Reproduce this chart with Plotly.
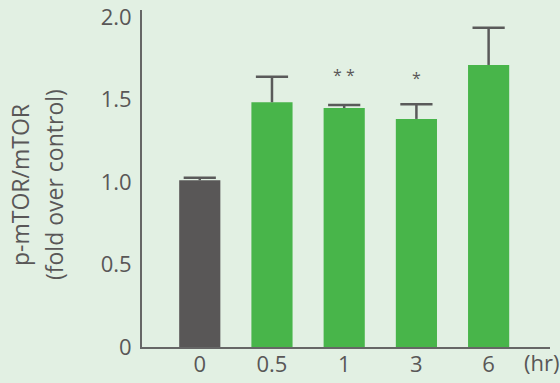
import plotly.graph_objects as go

# Time points after treatment (hr) and normalized p-mTOR/mTOR ratios
time_labels = ["0", "0.5", "1", "3", "6"]
ratio_mean = [1.01, 1.483, 1.448, 1.382, 1.709]
ratio_err = [0.016, 0.155, 0.019, 0.089, 0.226]
bar_colors = ["#595757", "#48b54a", "#48b54a", "#48b54a", "#48b54a"]

# Significance markers
sig_labels = {"1": "* *", "3": "*"}

y_tick_vals = [0, 0.5, 1.0, 1.5, 2.0]
y_tick_text = ["0", "0.5", "1.0", "1.5", "2.0"]

TEXT = "#595757"
ERR = "#5a5a5a"
FONT = "Open Sans"
BG = "#e2f0e3"

W, H = 560, 383
M_L, M_R, M_T, M_B = 142, 10, 10, 36
plot_w = W - M_L - M_R
plot_h = H - M_T - M_B

err_top = [m + e for m, e in zip(ratio_mean, ratio_err)]

fig = go.Figure()
# Bars with upward error stems (no caps)
fig.add_trace(go.Bar(
    x=time_labels,
    y=ratio_mean,
    marker=dict(color=bar_colors, line=dict(width=0)),
    width=0.57,
    error_y=dict(
        type="data",
        symmetric=False,
        array=ratio_err,
        arrayminus=[0] * len(ratio_err),
        color=ERR,
        thickness=2.5,
        width=0,
    ),
    hoverinfo="skip",
))
# Caps at the top of each error stem
fig.add_trace(go.Scatter(
    x=time_labels,
    y=err_top,
    mode="markers",
    marker=dict(symbol="line-ew", size=23, line=dict(color=ERR, width=2.5)),
    hoverinfo="skip",
))

annotations = []
for cat, txt in sig_labels.items():
    i = time_labels.index(cat)
    annotations.append(dict(
        x=i, y=err_top[i], xref="x", yref="y",
        text=txt, showarrow=False,
        yanchor="bottom", yshift=17 if cat == "1" else 13,
        font=dict(family=FONT, size=16, color=TEXT),
    ))

def px_to_paper_x(px):
    return (px - M_L) / plot_w

def px_to_paper_y(py):
    return (H - M_B - py) / plot_h

# Two-line rotated y-axis title
for text, cx in [("p-mTOR/mTOR", 20), ("(fold over control)", 54)]:
    annotations.append(dict(
        x=px_to_paper_x(cx), y=px_to_paper_y(185),
        xref="paper", yref="paper",
        text=text, textangle=-90, showarrow=False,
        xanchor="center", yanchor="middle",
        font=dict(family=FONT, size=23, color=TEXT),
    ))

# Unit label at the end of the x axis
annotations.append(dict(
    x=px_to_paper_x(541), y=px_to_paper_y(362),
    xref="paper", yref="paper",
    text="(hr)", showarrow=False,
    xanchor="center", yanchor="middle",
    font=dict(family=FONT, size=22, color=TEXT),
))

fig.update_layout(
    width=W, height=H,
    margin=dict(l=M_L, r=M_R, t=M_T, b=M_B, pad=0),
    paper_bgcolor=BG,
    plot_bgcolor=BG,
    showlegend=False,
    annotations=annotations,
    font=dict(family=FONT, size=22, color=TEXT),
)

fig.update_xaxes(
    type="category",
    range=[-0.8, 4.85],
    automargin=False,
    showline=True, linecolor="#666666", linewidth=2,
    showgrid=False, zeroline=False,
    ticks="", ticklabelstandoff=-3,
    tickfont=dict(family=FONT, size=22, color=TEXT),
    fixedrange=True,
)

fig.update_yaxes(
    range=[0, 2.042],
    automargin=False,
    tickvals=y_tick_vals, ticktext=y_tick_text,
    showline=True, linecolor="#666666", linewidth=2,
    showgrid=False, zeroline=False,
    ticks="", ticklabelstandoff=4,
    tickfont=dict(family=FONT, size=22, color=TEXT),
    fixedrange=True,
)

fig.write_html("out.html")
